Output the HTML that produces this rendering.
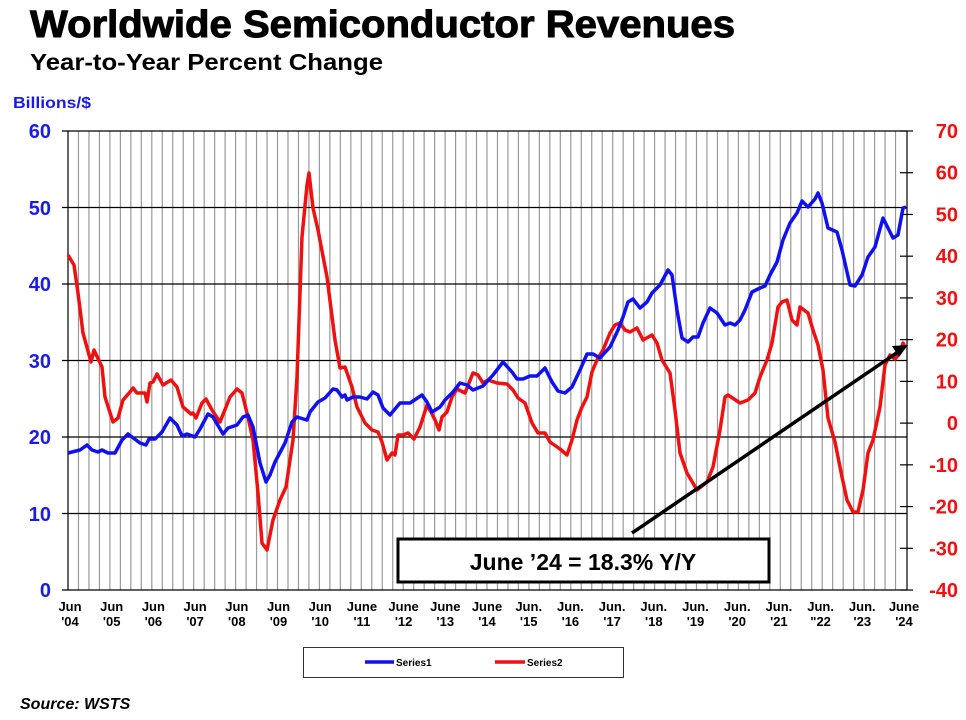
<!DOCTYPE html>
<html><head><meta charset="utf-8"><style>
body{margin:0;background:#fff;width:966px;height:720px;overflow:hidden}
svg{display:block;font-family:"Liberation Sans",Arial,sans-serif;font-weight:bold}
</style></head><body>
<svg width="966" height="720" viewBox="0 0 966 720" xmlns="http://www.w3.org/2000/svg">
<text x="30" y="37" font-size="38" fill="#000" stroke="#000" stroke-width="1" textLength="705" lengthAdjust="spacingAndGlyphs">Worldwide Semiconductor Revenues</text>
<text x="30" y="70" font-size="23" textLength="353" lengthAdjust="spacingAndGlyphs">Year-to-Year Percent Change</text>
<text x="13" y="108" font-size="16" fill="#1a1aee" textLength="78" lengthAdjust="spacingAndGlyphs">Billions/$</text>
<g id="vg" stroke="#999" stroke-width="1.2"></g>
<g stroke="#000" stroke-width="1.2">
<line x1="62" y1="131" x2="907" y2="131"/><line x1="62" y1="207.5" x2="907" y2="207.5"/>
<line x1="62" y1="284" x2="907" y2="284"/><line x1="62" y1="360.5" x2="907" y2="360.5"/>
<line x1="62" y1="437" x2="907" y2="437"/><line x1="62" y1="513.5" x2="907" y2="513.5"/>
<line x1="62" y1="590" x2="907" y2="590"/>
<line x1="68" y1="131" x2="68" y2="590"/><line x1="907" y1="131" x2="907" y2="590"/>
</g>
<g id="rt" stroke="#000" stroke-width="1.2"></g>
<g fill="#1a1aee" font-size="20" text-anchor="end">
<text x="51" y="138">60</text><text x="51" y="215">50</text><text x="51" y="291">40</text>
<text x="51" y="368">30</text><text x="51" y="444">20</text><text x="51" y="521">10</text><text x="51" y="597">0</text>
</g>
<g fill="#f01010" font-size="20" text-anchor="end" id="rl"></g>
<g font-size="13" text-anchor="middle" id="xl"></g>
<polyline fill="none" stroke="#f01010" stroke-width="3.5" stroke-linejoin="round" points="68,255 74,265 78,293 83,333 91,362 94,350 102,367 105,397 113,422 118,418 123,400 130,392 133,388 137,393 145,393 147,402 150,383 153,382 157,374 163,385 171,380 177,387 183,407 191,414 193,413 196,418 202,403 206,399 212,410 220,422 230,397 237,389 242,393 248,417 253,440 258,493 262,543 267,550 273,520 280,500 286,487 293,440 297,377 302,237 307,185 309,173 313,208 318,230 327,277 335,340 340,368 345,367 352,387 357,407 365,423 372,430 378,432 382,442 387,460 392,453 395,455 398,435 403,435 408,433 414,439 420,427 427,405 431,412 435,420 439,430 442,417 447,412 452,397 457,389 465,393 473,373 478,375 483,383 488,380 497,383 507,384 513,390 518,398 525,403 532,423 538,433 545,433 550,442 560,449 567,455 572,440 577,420 582,407 587,397 592,372 597,360 603,350 610,333 615,325 620,323 625,330 630,332 637,328 643,340 652,335 657,343 662,360 670,373 675,410 680,453 687,473 697,490 707,482 713,467 720,430 725,397 728,395 740,403 748,400 755,393 760,377 767,360 772,343 778,307 782,302 787,300 792,320 797,325 800,307 808,313 813,330 818,345 823,370 828,418 835,442 842,477 847,500 853,512 858,512 863,490 868,453 873,440 880,407 885,365 890,355 895,359 900,353 903,343 905,347"/>
<polyline fill="none" stroke="#1010f0" stroke-width="3.5" stroke-linejoin="round" points="68,453 80,450 87,445 92,450 98,452 102,450 108,453 115,453 122,440 128,434 140,443 146,445 149,439 155,439 162,432 170,418 177,425 182,436 187,434 195,437 200,429 208,414 213,417 223,434 228,428 237,425 243,417 248,415 253,427 260,463 266,482 270,475 275,462 285,443 292,422 297,417 307,420 310,412 318,402 325,398 333,389 337,390 342,397 345,395 347,400 353,397 360,397 367,399 373,392 378,395 383,408 390,415 400,403 410,403 422,395 427,402 432,412 440,407 445,400 453,392 460,383 467,385 473,390 483,386 493,375 503,362 512,372 517,379 523,379 530,376 537,376 545,368 552,382 558,391 565,393 572,387 580,370 587,354 593,354 600,358 610,347 618,330 623,317 628,302 633,299 640,308 647,302 652,293 660,285 668,270 672,275 677,310 682,338 688,342 693,337 698,337 703,323 710,308 717,313 725,325 730,323 735,325 740,320 745,310 752,292 760,288 765,286 770,275 777,262 783,240 790,223 797,213 802,201 808,207 815,199 818,193 822,203 828,228 837,232 842,250 850,285 855,286 862,275 868,257 875,247 883,218 888,228 893,238 898,235 903,208 906,207"/>
<line x1="632" y1="533" x2="898" y2="352" stroke="#000" stroke-width="3.5"/>
<polygon points="908,345 892,346 899,357" fill="#000"/>
<rect x="398" y="539" width="371" height="43" fill="#fff" stroke="#000" stroke-width="3"/>
<text x="583" y="570" font-size="23" text-anchor="middle">June ’24 = 18.3% Y/Y</text>
<rect x="303.5" y="647.5" width="320" height="30" fill="#fff" stroke="#333" stroke-width="1"/>
<line x1="365" y1="662" x2="394" y2="662" stroke="#1010f0" stroke-width="3.5"/>
<text x="396" y="666" font-size="10">Series1</text>
<line x1="495" y1="662" x2="525" y2="662" stroke="#f01010" stroke-width="3.5"/>
<text x="527" y="666" font-size="10">Series2</text>
<text x="20" y="709" font-size="16" font-style="italic">Source: WSTS</text>
</svg>
<script>
var ns="http://www.w3.org/2000/svg";
function el(p,t,a,txt){var e=document.createElementNS(ns,t);for(var k in a)e.setAttribute(k,a[k]);if(txt)e.textContent=txt;document.getElementById(p).appendChild(e);}
for(var i=1;i<80;i++){var x=68+i*10.475;el("vg","line",{x1:x,y1:131,x2:x,y2:590});}
for(var v=70;v>=-40;v-=10){var y=131+(70-v)*4.173;el("rt","line",{x1:900,y1:y,x2:913,y2:y});el("rl","text",{x:958,y:y+7},String(v));}
var m=["Jun","Jun","Jun","Jun","Jun","Jun","Jun","June","June","June","June","Jun.","Jun.","Jun.","Jun.","Jun.","Jun.","Jun.","Jun.","Jun.","June"];
var yr=["'04","'05","'06","'07","'08","'09","'10","'11","'12","'13","'14","'15","'16","'17","'18","'19","'20","'21","\"22","'23","'24"];
for(var i=0;i<=20;i++){var x=70+i*41.7;el("xl","text",{x:x,y:611},m[i]);el("xl","text",{x:x,y:626},yr[i]);}
</script>
</body></html>
